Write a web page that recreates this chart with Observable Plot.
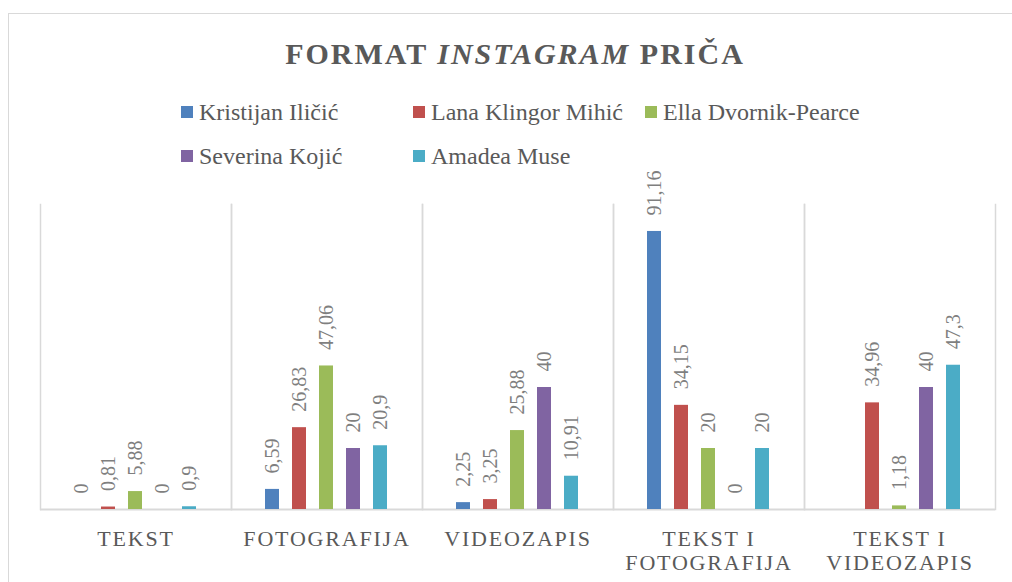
<!DOCTYPE html>
<html><head><meta charset="utf-8">
<script src="https://cdn.jsdelivr.net/npm/d3@7"></script>
<script src="https://cdn.jsdelivr.net/npm/@observablehq/plot@0.6"></script>
<style>
body{margin:0;background:#fff;width:1012px;height:582px;overflow:hidden;position:relative;font-family:"Liberation Serif",serif}
#border{position:absolute;left:8px;top:13px;width:1010px;height:580px;border:1px solid #d9d9d9;box-sizing:border-box}
#title{position:absolute;left:0;top:39px;width:1030px;text-align:center;font-size:30px;line-height:30px;font-weight:bold;letter-spacing:2px;color:#595959}
#legend{position:absolute;left:181px;top:90px;width:700px;display:flex;flex-wrap:wrap;z-index:2}
.item{width:232px;height:44px;display:flex;align-items:center;font-size:24px;color:#595959;white-space:nowrap}
.sw{width:12px;height:12px;margin-right:6px;flex:none}
#chart{position:absolute;left:0;top:150px}
g[aria-label="fx-axis tick label"] text{letter-spacing:1.8px}
</style>
</head><body>
<div id="border"></div>
<div id="title">FORMAT <i>INSTAGRAM</i> PRIČA</div>
<div id="legend"></div>
<div id="chart"></div>
<script>
const categories = ["TEKST","FOTOGRAFIJA","VIDEOZAPIS","TEKST I FOTOGRAFIJA","TEKST I VIDEOZAPIS"];
const categoryLabels = ["TEKST","FOTOGRAFIJA","VIDEOZAPIS","TEKST I\nFOTOGRAFIJA","TEKST I\nVIDEOZAPIS"];
const series = ["Kristijan Iličić","Lana Klingor Mihić","Ella Dvornik-Pearce","Severina Kojić","Amadea Muse"];
const colors = ["#4f81bd","#c0504d","#9bbb59","#8064a2","#4bacc6"];
const kristijan = [0, 6.59, 2.25, 91.16, null];
const lana = [0.81, 26.83, 3.25, 34.15, 34.96];
const ella = [5.88, 47.06, 25.88, 20, 1.18];
const severina = [0, 20, 40, 0, 40];
const amadea = [0.9, 20.9, 10.91, 20, 47.3];

const seriesValues = [kristijan, lana, ella, severina, amadea];
const rows = [];
categories.forEach((c, j) => {
  series.forEach((s, i) => {
    const v = seriesValues[i][j];
    if (v != null) rows.push({category: c, series: s, value: v});
  });
});
const fmt = v => String(v).replace(".", ",");

const legend = document.getElementById("legend");
series.forEach((s, i) => {
  const it = document.createElement("div");
  it.className = "item";
  const sw = document.createElement("span");
  sw.className = "sw";
  sw.style.background = colors[i];
  it.appendChild(sw);
  it.appendChild(document.createTextNode(s));
  legend.appendChild(it);
});

const chart = Plot.plot({
  width: 1012, height: 432,
  marginLeft: 38, marginRight: 15, marginTop: 54, marginBottom: 73,
  style: {overflow: "visible", background: "transparent", fontFamily: "Liberation Serif"},
  fx: {domain: categories, padding: 0, label: null},
  x: {domain: series, paddingInner: 0.475, paddingOuter: 1.19, axis: null},
  y: {domain: [0, 100], axis: null},
  color: {domain: series, range: colors},
  marks: [
    Plot.frame({anchor: "left", stroke: "#d9d9d9", strokeWidth: 1.5}),
    Plot.frame({anchor: "right", stroke: "#d9d9d9", strokeWidth: 1.5}),
    Plot.ruleY([0], {stroke: "#d9d9d9", strokeWidth: 2}),
    Plot.barY(rows, {fx: "category", x: "series", y: "value", fill: "series"}),
    Plot.text(rows, {fx: "category", x: "series", y: "value", text: d => fmt(d.value),
      rotate: -90, textAnchor: "start", dy: -16, fontSize: 20, fill: "#7f7f7f"}),
    Plot.axisFx({anchor: "bottom", tickSize: 0, tickPadding: 19, fontSize: 22, lineHeight: 1.1, fill: "#595959",
      label: null, tickFormat: c => categoryLabels[categories.indexOf(c)]})
  ]
});
document.getElementById("chart").appendChild(chart);
</script>
</body></html>
